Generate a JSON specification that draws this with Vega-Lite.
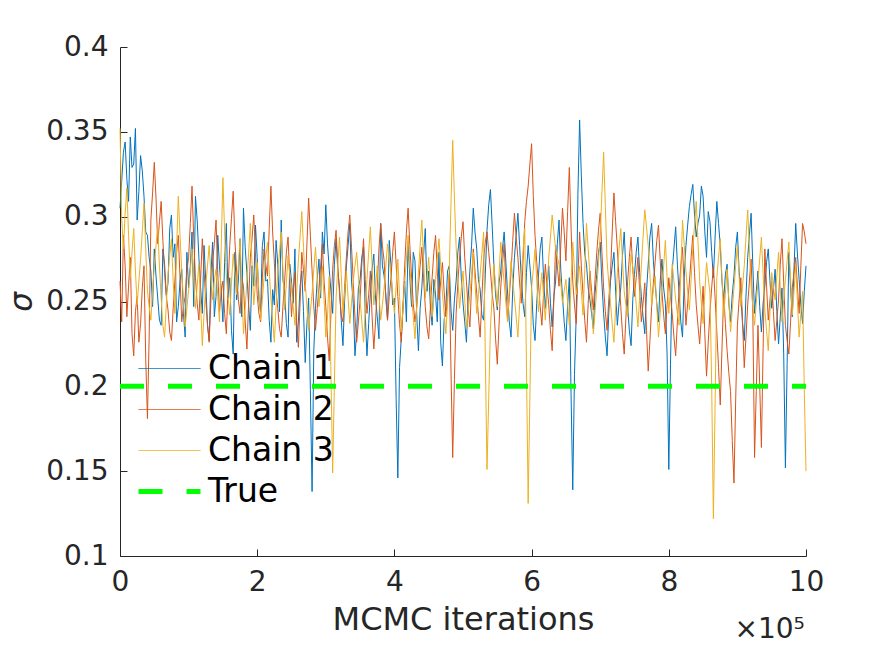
{
  "$schema": "https://vega.github.io/schema/vega-lite/v6.json",
  "width": 686,
  "height": 509,
  "autosize": {"type": "none"},
  "padding": {"left": 120, "top": 47, "right": 85, "bottom": 89},
  "background": "white",
  "title": {"text": "×10⁵", "orient": "bottom", "anchor": "end", "fontSize": 28, "font": "DejaVu Sans", "fontWeight": "normal", "color": "#262626", "dy": -23, "dx": -19},
  "layer": [
    {
      "data": {"values": [
        {"iter":0,"Chain 1":0.305,"Chain 2":0.262,"Chain 3":0.352},
        {"iter":5000,"Chain 1":0.338,"Chain 2":0.289,"Chain 3":0.281},
        {"iter":10000,"Chain 1":0.322,"Chain 2":0.241,"Chain 3":0.317},
        {"iter":15000,"Chain 1":0.347,"Chain 2":0.276,"Chain 3":0.264},
        {"iter":20000,"Chain 1":0.331,"Chain 2":0.218,"Chain 3":0.293},
        {"iter":25000,"Chain 1":0.298,"Chain 2":0.253,"Chain 3":0.248},
        {"iter":30000,"Chain 1":0.336,"Chain 2":0.237,"Chain 3":0.275},
        {"iter":35000,"Chain 1":0.312,"Chain 2":0.271,"Chain 3":0.308},
        {"iter":40000,"Chain 1":0.289,"Chain 2":0.181,"Chain 3":0.256},
        {"iter":45000,"Chain 1":0.268,"Chain 2":0.298,"Chain 3":0.239},
        {"iter":50000,"Chain 1":0.281,"Chain 2":0.332,"Chain 3":0.271},
        {"iter":55000,"Chain 1":0.252,"Chain 2":0.284,"Chain 3":0.294},
        {"iter":60000,"Chain 1":0.236,"Chain 2":0.309,"Chain 3":0.252},
        {"iter":65000,"Chain 1":0.272,"Chain 2":0.267,"Chain 3":0.229},
        {"iter":70000,"Chain 1":0.261,"Chain 2":0.245,"Chain 3":0.266},
        {"iter":75000,"Chain 1":0.301,"Chain 2":0.227,"Chain 3":0.287},
        {"iter":80000,"Chain 1":0.284,"Chain 2":0.262,"Chain 3":0.243},
        {"iter":85000,"Chain 1":0.247,"Chain 2":0.289,"Chain 3":0.312},
        {"iter":90000,"Chain 1":0.269,"Chain 2":0.238,"Chain 3":0.268},
        {"iter":95000,"Chain 1":0.229,"Chain 2":0.253,"Chain 3":0.235},
        {"iter":100000,"Chain 1":0.258,"Chain 2":0.276,"Chain 3":0.257},
        {"iter":105000,"Chain 1":0.291,"Chain 2":0.318,"Chain 3":0.281},
        {"iter":110000,"Chain 1":0.312,"Chain 2":0.264,"Chain 3":0.246},
        {"iter":115000,"Chain 1":0.276,"Chain 2":0.239,"Chain 3":0.272},
        {"iter":120000,"Chain 1":0.243,"Chain 2":0.287,"Chain 3":0.224},
        {"iter":125000,"Chain 1":0.262,"Chain 2":0.251,"Chain 3":0.259},
        {"iter":130000,"Chain 1":0.227,"Chain 2":0.226,"Chain 3":0.283},
        {"iter":135000,"Chain 1":0.285,"Chain 2":0.273,"Chain 3":0.251},
        {"iter":140000,"Chain 1":0.253,"Chain 2":0.298,"Chain 3":0.269},
        {"iter":145000,"Chain 1":0.271,"Chain 2":0.244,"Chain 3":0.238},
        {"iter":150000,"Chain 1":0.238,"Chain 2":0.262,"Chain 3":0.323},
        {"iter":155000,"Chain 1":0.296,"Chain 2":0.231,"Chain 3":0.265},
        {"iter":160000,"Chain 1":0.264,"Chain 2":0.283,"Chain 3":0.242},
        {"iter":165000,"Chain 1":0.219,"Chain 2":0.315,"Chain 3":0.278},
        {"iter":170000,"Chain 1":0.251,"Chain 2":0.268,"Chain 3":0.254},
        {"iter":175000,"Chain 1":0.287,"Chain 2":0.243,"Chain 3":0.287},
        {"iter":180000,"Chain 1":0.305,"Chain 2":0.259,"Chain 3":0.231},
        {"iter":185000,"Chain 1":0.267,"Chain 2":0.222,"Chain 3":0.262},
        {"iter":190000,"Chain 1":0.233,"Chain 2":0.276,"Chain 3":0.296},
        {"iter":195000,"Chain 1":0.259,"Chain 2":0.301,"Chain 3":0.248},
        {"iter":200000,"Chain 1":0.276,"Chain 2":0.254,"Chain 3":0.273},
        {"iter":205000,"Chain 1":0.244,"Chain 2":0.238,"Chain 3":0.239},
        {"iter":210000,"Chain 1":0.291,"Chain 2":0.281,"Chain 3":0.264},
        {"iter":215000,"Chain 1":0.263,"Chain 2":0.265,"Chain 3":0.285},
        {"iter":220000,"Chain 1":0.226,"Chain 2":0.318,"Chain 3":0.252},
        {"iter":225000,"Chain 1":0.248,"Chain 2":0.273,"Chain 3":0.226},
        {"iter":230000,"Chain 1":0.272,"Chain 2":0.246,"Chain 3":0.268},
        {"iter":235000,"Chain 1":0.298,"Chain 2":0.229,"Chain 3":0.291},
        {"iter":240000,"Chain 1":0.255,"Chain 2":0.262,"Chain 3":0.245},
        {"iter":245000,"Chain 1":0.229,"Chain 2":0.288,"Chain 3":0.277},
        {"iter":250000,"Chain 1":0.262,"Chain 2":0.241,"Chain 3":0.258},
        {"iter":255000,"Chain 1":0.281,"Chain 2":0.267,"Chain 3":0.236},
        {"iter":260000,"Chain 1":0.238,"Chain 2":0.223,"Chain 3":0.274},
        {"iter":265000,"Chain 1":0.268,"Chain 2":0.279,"Chain 3":0.303},
        {"iter":270000,"Chain 1":0.214,"Chain 2":0.256,"Chain 3":0.261},
        {"iter":275000,"Chain 1":0.252,"Chain 2":0.311,"Chain 3":0.233},
        {"iter":280000,"Chain 1":0.138,"Chain 2":0.268,"Chain 3":0.255},
        {"iter":285000,"Chain 1":0.246,"Chain 2":0.233,"Chain 3":0.282},
        {"iter":290000,"Chain 1":0.275,"Chain 2":0.258,"Chain 3":0.247},
        {"iter":295000,"Chain 1":0.291,"Chain 2":0.284,"Chain 3":0.271},
        {"iter":300000,"Chain 1":0.307,"Chain 2":0.247,"Chain 3":0.229},
        {"iter":305000,"Chain 1":0.269,"Chain 2":0.215,"Chain 3":0.265},
        {"iter":310000,"Chain 1":0.243,"Chain 2":0.269,"Chain 3":0.149},
        {"iter":315000,"Chain 1":0.287,"Chain 2":0.292,"Chain 3":0.252},
        {"iter":320000,"Chain 1":0.258,"Chain 2":0.255,"Chain 3":0.288},
        {"iter":325000,"Chain 1":0.224,"Chain 2":0.238,"Chain 3":0.243},
        {"iter":330000,"Chain 1":0.271,"Chain 2":0.276,"Chain 3":0.268},
        {"iter":335000,"Chain 1":0.296,"Chain 2":0.301,"Chain 3":0.237},
        {"iter":340000,"Chain 1":0.249,"Chain 2":0.262,"Chain 3":0.262},
        {"iter":345000,"Chain 1":0.232,"Chain 2":0.226,"Chain 3":0.279},
        {"iter":350000,"Chain 1":0.263,"Chain 2":0.251,"Chain 3":0.251},
        {"iter":355000,"Chain 1":0.282,"Chain 2":0.287,"Chain 3":0.226},
        {"iter":360000,"Chain 1":0.218,"Chain 2":0.243,"Chain 3":0.263},
        {"iter":365000,"Chain 1":0.255,"Chain 2":0.268,"Chain 3":0.294},
        {"iter":370000,"Chain 1":0.278,"Chain 2":0.222,"Chain 3":0.248},
        {"iter":375000,"Chain 1":0.241,"Chain 2":0.259,"Chain 3":0.271},
        {"iter":380000,"Chain 1":0.296,"Chain 2":0.296,"Chain 3":0.239},
        {"iter":385000,"Chain 1":0.265,"Chain 2":0.274,"Chain 3":0.258},
        {"iter":390000,"Chain 1":0.239,"Chain 2":0.239,"Chain 3":0.284},
        {"iter":395000,"Chain 1":0.271,"Chain 2":0.264,"Chain 3":0.266},
        {"iter":400000,"Chain 1":0.252,"Chain 2":0.291,"Chain 3":0.243},
        {"iter":405000,"Chain 1":0.146,"Chain 2":0.253,"Chain 3":0.275},
        {"iter":410000,"Chain 1":0.228,"Chain 2":0.226,"Chain 3":0.232},
        {"iter":415000,"Chain 1":0.262,"Chain 2":0.271,"Chain 3":0.261},
        {"iter":420000,"Chain 1":0.285,"Chain 2":0.305,"Chain 3":0.289},
        {"iter":425000,"Chain 1":0.247,"Chain 2":0.265,"Chain 3":0.254},
        {"iter":430000,"Chain 1":0.274,"Chain 2":0.238,"Chain 3":0.228},
        {"iter":435000,"Chain 1":0.221,"Chain 2":0.259,"Chain 3":0.267},
        {"iter":440000,"Chain 1":0.258,"Chain 2":0.282,"Chain 3":0.298},
        {"iter":445000,"Chain 1":0.293,"Chain 2":0.247,"Chain 3":0.252},
        {"iter":450000,"Chain 1":0.268,"Chain 2":0.228,"Chain 3":0.276},
        {"iter":455000,"Chain 1":0.236,"Chain 2":0.264,"Chain 3":0.241},
        {"iter":460000,"Chain 1":0.254,"Chain 2":0.289,"Chain 3":0.263},
        {"iter":465000,"Chain 1":0.279,"Chain 2":0.251,"Chain 3":0.287},
        {"iter":470000,"Chain 1":0.212,"Chain 2":0.273,"Chain 3":0.255},
        {"iter":475000,"Chain 1":0.247,"Chain 2":0.241,"Chain 3":0.231},
        {"iter":480000,"Chain 1":0.271,"Chain 2":0.266,"Chain 3":0.269},
        {"iter":485000,"Chain 1":0.233,"Chain 2":0.158,"Chain 3":0.345},
        {"iter":490000,"Chain 1":0.262,"Chain 2":0.243,"Chain 3":0.282},
        {"iter":495000,"Chain 1":0.288,"Chain 2":0.276,"Chain 3":0.246},
        {"iter":500000,"Chain 1":0.249,"Chain 2":0.297,"Chain 3":0.268},
        {"iter":505000,"Chain 1":0.226,"Chain 2":0.262,"Chain 3":0.234},
        {"iter":510000,"Chain 1":0.268,"Chain 2":0.235,"Chain 3":0.254},
        {"iter":515000,"Chain 1":0.305,"Chain 2":0.281,"Chain 3":0.279},
        {"iter":520000,"Chain 1":0.281,"Chain 2":0.255,"Chain 3":0.243},
        {"iter":525000,"Chain 1":0.257,"Chain 2":0.229,"Chain 3":0.266},
        {"iter":530000,"Chain 1":0.239,"Chain 2":0.274,"Chain 3":0.291},
        {"iter":535000,"Chain 1":0.292,"Chain 2":0.291,"Chain 3":0.151},
        {"iter":540000,"Chain 1":0.316,"Chain 2":0.268,"Chain 3":0.235},
        {"iter":545000,"Chain 1":0.272,"Chain 2":0.246,"Chain 3":0.272},
        {"iter":550000,"Chain 1":0.245,"Chain 2":0.213,"Chain 3":0.247},
        {"iter":555000,"Chain 1":0.268,"Chain 2":0.258,"Chain 3":0.285},
        {"iter":560000,"Chain 1":0.291,"Chain 2":0.284,"Chain 3":0.261},
        {"iter":565000,"Chain 1":0.255,"Chain 2":0.239,"Chain 3":0.238},
        {"iter":570000,"Chain 1":0.229,"Chain 2":0.267,"Chain 3":0.274},
        {"iter":575000,"Chain 1":0.276,"Chain 2":0.302,"Chain 3":0.252},
        {"iter":580000,"Chain 1":0.302,"Chain 2":0.276,"Chain 3":0.229},
        {"iter":585000,"Chain 1":0.264,"Chain 2":0.249,"Chain 3":0.266},
        {"iter":590000,"Chain 1":0.241,"Chain 2":0.297,"Chain 3":0.293},
        {"iter":595000,"Chain 1":0.283,"Chain 2":0.318,"Chain 3":0.131},
        {"iter":600000,"Chain 1":0.258,"Chain 2":0.343,"Chain 3":0.258},
        {"iter":605000,"Chain 1":0.227,"Chain 2":0.289,"Chain 3":0.281},
        {"iter":610000,"Chain 1":0.265,"Chain 2":0.261,"Chain 3":0.244},
        {"iter":615000,"Chain 1":0.288,"Chain 2":0.236,"Chain 3":0.267},
        {"iter":620000,"Chain 1":0.246,"Chain 2":0.272,"Chain 3":0.239},
        {"iter":625000,"Chain 1":0.271,"Chain 2":0.248,"Chain 3":0.276},
        {"iter":630000,"Chain 1":0.235,"Chain 2":0.221,"Chain 3":0.301},
        {"iter":635000,"Chain 1":0.262,"Chain 2":0.283,"Chain 3":0.281},
        {"iter":640000,"Chain 1":0.298,"Chain 2":0.259,"Chain 3":0.272},
        {"iter":645000,"Chain 1":0.253,"Chain 2":0.305,"Chain 3":0.249},
        {"iter":650000,"Chain 1":0.227,"Chain 2":0.274,"Chain 3":0.263},
        {"iter":655000,"Chain 1":0.264,"Chain 2":0.329,"Chain 3":0.236},
        {"iter":660000,"Chain 1":0.139,"Chain 2":0.262,"Chain 3":0.285},
        {"iter":665000,"Chain 1":0.241,"Chain 2":0.237,"Chain 3":0.254},
        {"iter":670000,"Chain 1":0.357,"Chain 2":0.291,"Chain 3":0.271},
        {"iter":675000,"Chain 1":0.296,"Chain 2":0.254,"Chain 3":0.242},
        {"iter":680000,"Chain 1":0.272,"Chain 2":0.226,"Chain 3":0.296},
        {"iter":685000,"Chain 1":0.251,"Chain 2":0.268,"Chain 3":0.265},
        {"iter":690000,"Chain 1":0.234,"Chain 2":0.245,"Chain 3":0.231},
        {"iter":695000,"Chain 1":0.266,"Chain 2":0.279,"Chain 3":0.258},
        {"iter":700000,"Chain 1":0.285,"Chain 2":0.302,"Chain 3":0.289},
        {"iter":705000,"Chain 1":0.243,"Chain 2":0.258,"Chain 3":0.338},
        {"iter":710000,"Chain 1":0.218,"Chain 2":0.233,"Chain 3":0.274},
        {"iter":715000,"Chain 1":0.262,"Chain 2":0.266,"Chain 3":0.249},
        {"iter":720000,"Chain 1":0.279,"Chain 2":0.314,"Chain 3":0.226},
        {"iter":725000,"Chain 1":0.236,"Chain 2":0.281,"Chain 3":0.267},
        {"iter":730000,"Chain 1":0.258,"Chain 2":0.247,"Chain 3":0.293},
        {"iter":735000,"Chain 1":0.291,"Chain 2":0.219,"Chain 3":0.256},
        {"iter":740000,"Chain 1":0.247,"Chain 2":0.262,"Chain 3":0.241},
        {"iter":745000,"Chain 1":0.224,"Chain 2":0.288,"Chain 3":0.278},
        {"iter":750000,"Chain 1":0.266,"Chain 2":0.253,"Chain 3":0.262},
        {"iter":755000,"Chain 1":0.288,"Chain 2":0.276,"Chain 3":0.235},
        {"iter":760000,"Chain 1":0.253,"Chain 2":0.238,"Chain 3":0.271},
        {"iter":765000,"Chain 1":0.231,"Chain 2":0.261,"Chain 3":0.304},
        {"iter":770000,"Chain 1":0.272,"Chain 2":0.209,"Chain 3":0.283},
        {"iter":775000,"Chain 1":0.296,"Chain 2":0.247,"Chain 3":0.248},
        {"iter":780000,"Chain 1":0.261,"Chain 2":0.273,"Chain 3":0.265},
        {"iter":785000,"Chain 1":0.238,"Chain 2":0.295,"Chain 3":0.229},
        {"iter":790000,"Chain 1":0.275,"Chain 2":0.256,"Chain 3":0.257},
        {"iter":795000,"Chain 1":0.249,"Chain 2":0.231,"Chain 3":0.286},
        {"iter":800000,"Chain 1":0.151,"Chain 2":0.264,"Chain 3":0.243},
        {"iter":805000,"Chain 1":0.268,"Chain 2":0.243,"Chain 3":0.272},
        {"iter":810000,"Chain 1":0.294,"Chain 2":0.218,"Chain 3":0.251},
        {"iter":815000,"Chain 1":0.255,"Chain 2":0.257,"Chain 3":0.236},
        {"iter":820000,"Chain 1":0.229,"Chain 2":0.282,"Chain 3":0.298},
        {"iter":825000,"Chain 1":0.283,"Chain 2":0.236,"Chain 3":0.268},
        {"iter":830000,"Chain 1":0.306,"Chain 2":0.261,"Chain 3":0.245},
        {"iter":835000,"Chain 1":0.319,"Chain 2":0.289,"Chain 3":0.281},
        {"iter":840000,"Chain 1":0.288,"Chain 2":0.248,"Chain 3":0.309},
        {"iter":845000,"Chain 1":0.301,"Chain 2":0.225,"Chain 3":0.262},
        {"iter":850000,"Chain 1":0.312,"Chain 2":0.259,"Chain 3":0.237},
        {"iter":855000,"Chain 1":0.276,"Chain 2":0.206,"Chain 3":0.273},
        {"iter":860000,"Chain 1":0.297,"Chain 2":0.244,"Chain 3":0.255},
        {"iter":865000,"Chain 1":0.264,"Chain 2":0.271,"Chain 3":0.122},
        {"iter":870000,"Chain 1":0.309,"Chain 2":0.232,"Chain 3":0.264},
        {"iter":875000,"Chain 1":0.283,"Chain 2":0.189,"Chain 3":0.287},
        {"iter":880000,"Chain 1":0.251,"Chain 2":0.254,"Chain 3":0.241},
        {"iter":885000,"Chain 1":0.272,"Chain 2":0.221,"Chain 3":0.269},
        {"iter":890000,"Chain 1":0.238,"Chain 2":0.197,"Chain 3":0.232},
        {"iter":895000,"Chain 1":0.265,"Chain 2":0.143,"Chain 3":0.258},
        {"iter":900000,"Chain 1":0.291,"Chain 2":0.236,"Chain 3":0.283},
        {"iter":905000,"Chain 1":0.254,"Chain 2":0.264,"Chain 3":0.247},
        {"iter":910000,"Chain 1":0.227,"Chain 2":0.211,"Chain 3":0.271},
        {"iter":915000,"Chain 1":0.276,"Chain 2":0.248,"Chain 3":0.304},
        {"iter":920000,"Chain 1":0.302,"Chain 2":0.275,"Chain 3":0.259},
        {"iter":925000,"Chain 1":0.243,"Chain 2":0.158,"Chain 3":0.236},
        {"iter":930000,"Chain 1":0.268,"Chain 2":0.236,"Chain 3":0.262},
        {"iter":935000,"Chain 1":0.232,"Chain 2":0.164,"Chain 3":0.288},
        {"iter":940000,"Chain 1":0.259,"Chain 2":0.281,"Chain 3":0.245},
        {"iter":945000,"Chain 1":0.281,"Chain 2":0.239,"Chain 3":0.221},
        {"iter":950000,"Chain 1":0.246,"Chain 2":0.262,"Chain 3":0.267},
        {"iter":955000,"Chain 1":0.269,"Chain 2":0.227,"Chain 3":0.251},
        {"iter":960000,"Chain 1":0.225,"Chain 2":0.251,"Chain 3":0.279},
        {"iter":965000,"Chain 1":0.258,"Chain 2":0.287,"Chain 3":0.238},
        {"iter":970000,"Chain 1":0.152,"Chain 2":0.236,"Chain 3":0.263},
        {"iter":975000,"Chain 1":0.279,"Chain 2":0.219,"Chain 3":0.285},
        {"iter":980000,"Chain 1":0.241,"Chain 2":0.258,"Chain 3":0.242},
        {"iter":985000,"Chain 1":0.296,"Chain 2":0.276,"Chain 3":0.271},
        {"iter":990000,"Chain 1":0.263,"Chain 2":0.243,"Chain 3":0.229},
        {"iter":995000,"Chain 1":0.237,"Chain 2":0.296,"Chain 3":0.256},
        {"iter":1000000,"Chain 1":0.271,"Chain 2":0.284,"Chain 3":0.150},
        {"iter":2500,"Chain 1":0.321,"Chain 2":0.238,"Chain 3":0.299},
        {"iter":7500,"Chain 1":0.344,"Chain 2":0.271,"Chain 3":0.302},
        {"iter":12500,"Chain 1":0.309,"Chain 2":0.259,"Chain 3":0.289},
        {"iter":17500,"Chain 1":0.329,"Chain 2":0.231,"Chain 3":0.279},
        {"iter":22500,"Chain 1":0.352,"Chain 2":0.244,"Chain 3":0.268},
        {"iter":27500,"Chain 1":0.315,"Chain 2":0.226,"Chain 3":0.262},
        {"iter":32500,"Chain 1":0.327,"Chain 2":0.258,"Chain 3":0.291},
        {"iter":37500,"Chain 1":0.291,"Chain 2":0.216,"Chain 3":0.281},
        {"iter":42500,"Chain 1":0.276,"Chain 2":0.229,"Chain 3":0.247},
        {"iter":47500,"Chain 1":0.247,"Chain 2":0.314,"Chain 3":0.256},
        {"iter":52500,"Chain 1":0.265,"Chain 2":0.311,"Chain 3":0.283},
        {"iter":57500,"Chain 1":0.239,"Chain 2":0.297,"Chain 3":0.271},
        {"iter":62500,"Chain 1":0.281,"Chain 2":0.286,"Chain 3":0.236},
        {"iter":67500,"Chain 1":0.254,"Chain 2":0.253,"Chain 3":0.248},
        {"iter":72500,"Chain 1":0.293,"Chain 2":0.232,"Chain 3":0.277},
        {"iter":77500,"Chain 1":0.276,"Chain 2":0.246,"Chain 3":0.262},
        {"iter":82500,"Chain 1":0.238,"Chain 2":0.279,"Chain 3":0.281},
        {"iter":87500,"Chain 1":0.262,"Chain 2":0.264,"Chain 3":0.289},
        {"iter":92500,"Chain 1":0.243,"Chain 2":0.247,"Chain 3":0.251},
        {"iter":97500,"Chain 1":0.279,"Chain 2":0.268,"Chain 3":0.246},
        {"iter":102500,"Chain 1":0.271,"Chain 2":0.296,"Chain 3":0.268},
        {"iter":107500,"Chain 1":0.247,"Chain 2":0.287,"Chain 3":0.263},
        {"iter":112500,"Chain 1":0.298,"Chain 2":0.249,"Chain 3":0.259},
        {"iter":117500,"Chain 1":0.258,"Chain 2":0.263,"Chain 3":0.248},
        {"iter":122500,"Chain 1":0.283,"Chain 2":0.268,"Chain 3":0.243},
        {"iter":127500,"Chain 1":0.236,"Chain 2":0.237,"Chain 3":0.271},
        {"iter":132500,"Chain 1":0.266,"Chain 2":0.251,"Chain 3":0.266},
        {"iter":137500,"Chain 1":0.241,"Chain 2":0.284,"Chain 3":0.262},
        {"iter":142500,"Chain 1":0.289,"Chain 2":0.267,"Chain 3":0.253},
        {"iter":147500,"Chain 1":0.257,"Chain 2":0.256,"Chain 3":0.281},
        {"iter":152500,"Chain 1":0.273,"Chain 2":0.243,"Chain 3":0.291},
        {"iter":157500,"Chain 1":0.252,"Chain 2":0.258,"Chain 3":0.253},
        {"iter":162500,"Chain 1":0.233,"Chain 2":0.299,"Chain 3":0.261},
        {"iter":167500,"Chain 1":0.279,"Chain 2":0.286,"Chain 3":0.266},
        {"iter":172500,"Chain 1":0.262,"Chain 2":0.251,"Chain 3":0.271},
        {"iter":177500,"Chain 1":0.241,"Chain 2":0.264,"Chain 3":0.258},
        {"iter":182500,"Chain 1":0.282,"Chain 2":0.238,"Chain 3":0.246},
        {"iter":187500,"Chain 1":0.248,"Chain 2":0.249,"Chain 3":0.279},
        {"iter":192500,"Chain 1":0.271,"Chain 2":0.287,"Chain 3":0.272},
        {"iter":197500,"Chain 1":0.295,"Chain 2":0.278,"Chain 3":0.261},
        {"iter":202500,"Chain 1":0.251,"Chain 2":0.243,"Chain 3":0.256},
        {"iter":207500,"Chain 1":0.283,"Chain 2":0.264,"Chain 3":0.251},
        {"iter":212500,"Chain 1":0.262,"Chain 2":0.272,"Chain 3":0.276},
        {"iter":217500,"Chain 1":0.239,"Chain 2":0.293,"Chain 3":0.268},
        {"iter":222500,"Chain 1":0.257,"Chain 2":0.291,"Chain 3":0.239},
        {"iter":227500,"Chain 1":0.286,"Chain 2":0.256,"Chain 3":0.247},
        {"iter":232500,"Chain 1":0.244,"Chain 2":0.234,"Chain 3":0.279},
        {"iter":237500,"Chain 1":0.263,"Chain 2":0.247,"Chain 3":0.268},
        {"iter":242500,"Chain 1":0.237,"Chain 2":0.279,"Chain 3":0.261},
        {"iter":247500,"Chain 1":0.272,"Chain 2":0.263,"Chain 3":0.266},
        {"iter":252500,"Chain 1":0.249,"Chain 2":0.256,"Chain 3":0.247},
        {"iter":257500,"Chain 1":0.226,"Chain 2":0.238,"Chain 3":0.255},
        {"iter":262500,"Chain 1":0.259,"Chain 2":0.249,"Chain 3":0.288},
        {"iter":267500,"Chain 1":0.244,"Chain 2":0.268,"Chain 3":0.282},
        {"iter":272500,"Chain 1":0.237,"Chain 2":0.284,"Chain 3":0.247},
        {"iter":277500,"Chain 1":0.198,"Chain 2":0.289,"Chain 3":0.244},
        {"iter":282500,"Chain 1":0.221,"Chain 2":0.247,"Chain 3":0.269},
        {"iter":287500,"Chain 1":0.263,"Chain 2":0.246,"Chain 3":0.264},
        {"iter":292500,"Chain 1":0.252,"Chain 2":0.271,"Chain 3":0.259},
        {"iter":297500,"Chain 1":0.278,"Chain 2":0.262,"Chain 3":0.251},
        {"iter":302500,"Chain 1":0.284,"Chain 2":0.229,"Chain 3":0.241},
        {"iter":307500,"Chain 1":0.256,"Chain 2":0.243,"Chain 3":0.207},
        {"iter":312500,"Chain 1":0.272,"Chain 2":0.283,"Chain 3":0.201},
        {"iter":317500,"Chain 1":0.268,"Chain 2":0.271,"Chain 3":0.271},
        {"iter":322500,"Chain 1":0.239,"Chain 2":0.242,"Chain 3":0.266},
        {"iter":327500,"Chain 1":0.251,"Chain 2":0.259,"Chain 3":0.255},
        {"iter":332500,"Chain 1":0.283,"Chain 2":0.291,"Chain 3":0.252},
        {"iter":337500,"Chain 1":0.262,"Chain 2":0.282,"Chain 3":0.249},
        {"iter":342500,"Chain 1":0.218,"Chain 2":0.241,"Chain 3":0.271},
        {"iter":347500,"Chain 1":0.258,"Chain 2":0.238,"Chain 3":0.265},
        {"iter":352500,"Chain 1":0.276,"Chain 2":0.272,"Chain 3":0.238},
        {"iter":357500,"Chain 1":0.243,"Chain 2":0.263,"Chain 3":0.244},
        {"iter":362500,"Chain 1":0.237,"Chain 2":0.254,"Chain 3":0.279},
        {"iter":367500,"Chain 1":0.269,"Chain 2":0.241,"Chain 3":0.271},
        {"iter":372500,"Chain 1":0.252,"Chain 2":0.238,"Chain 3":0.259},
        {"iter":377500,"Chain 1":0.228,"Chain 2":0.281,"Chain 3":0.255},
        {"iter":382500,"Chain 1":0.271,"Chain 2":0.283,"Chain 3":0.248},
        {"iter":387500,"Chain 1":0.254,"Chain 2":0.252,"Chain 3":0.271},
        {"iter":392500,"Chain 1":0.286,"Chain 2":0.253,"Chain 3":0.275},
        {"iter":397500,"Chain 1":0.248,"Chain 2":0.279,"Chain 3":0.254},
        {"iter":402500,"Chain 1":0.193,"Chain 2":0.272,"Chain 3":0.259},
        {"iter":407500,"Chain 1":0.211,"Chain 2":0.237,"Chain 3":0.253},
        {"iter":412500,"Chain 1":0.247,"Chain 2":0.246,"Chain 3":0.246},
        {"iter":417500,"Chain 1":0.238,"Chain 2":0.291,"Chain 3":0.275},
        {"iter":422500,"Chain 1":0.264,"Chain 2":0.283,"Chain 3":0.271},
        {"iter":427500,"Chain 1":0.279,"Chain 2":0.249,"Chain 3":0.241},
        {"iter":432500,"Chain 1":0.243,"Chain 2":0.246,"Chain 3":0.247},
        {"iter":437500,"Chain 1":0.246,"Chain 2":0.271,"Chain 3":0.283},
        {"iter":442500,"Chain 1":0.277,"Chain 2":0.264,"Chain 3":0.275},
        {"iter":447500,"Chain 1":0.256,"Chain 2":0.235,"Chain 3":0.264},
        {"iter":452500,"Chain 1":0.247,"Chain 2":0.247,"Chain 3":0.258},
        {"iter":457500,"Chain 1":0.263,"Chain 2":0.279,"Chain 3":0.252},
        {"iter":462500,"Chain 1":0.238,"Chain 2":0.268,"Chain 3":0.275},
        {"iter":467500,"Chain 1":0.226,"Chain 2":0.262,"Chain 3":0.271},
        {"iter":472500,"Chain 1":0.239,"Chain 2":0.256,"Chain 3":0.243},
        {"iter":477500,"Chain 1":0.268,"Chain 2":0.253,"Chain 3":0.249},
        {"iter":482500,"Chain 1":0.245,"Chain 2":0.209,"Chain 3":0.308},
        {"iter":487500,"Chain 1":0.251,"Chain 2":0.204,"Chain 3":0.311},
        {"iter":492500,"Chain 1":0.279,"Chain 2":0.261,"Chain 3":0.264},
        {"iter":497500,"Chain 1":0.264,"Chain 2":0.288,"Chain 3":0.257},
        {"iter":502500,"Chain 1":0.238,"Chain 2":0.276,"Chain 3":0.251},
        {"iter":507500,"Chain 1":0.252,"Chain 2":0.246,"Chain 3":0.244},
        {"iter":512500,"Chain 1":0.283,"Chain 2":0.259,"Chain 3":0.266},
        {"iter":517500,"Chain 1":0.291,"Chain 2":0.268,"Chain 3":0.261},
        {"iter":522500,"Chain 1":0.263,"Chain 2":0.241,"Chain 3":0.254},
        {"iter":527500,"Chain 1":0.242,"Chain 2":0.252,"Chain 3":0.278},
        {"iter":532500,"Chain 1":0.266,"Chain 2":0.285,"Chain 3":0.219},
        {"iter":537500,"Chain 1":0.307,"Chain 2":0.279,"Chain 3":0.193},
        {"iter":542500,"Chain 1":0.295,"Chain 2":0.255,"Chain 3":0.253},
        {"iter":547500,"Chain 1":0.254,"Chain 2":0.228,"Chain 3":0.259},
        {"iter":552500,"Chain 1":0.261,"Chain 2":0.236,"Chain 3":0.266},
        {"iter":557500,"Chain 1":0.281,"Chain 2":0.272,"Chain 3":0.273},
        {"iter":562500,"Chain 1":0.273,"Chain 2":0.259,"Chain 3":0.249},
        {"iter":567500,"Chain 1":0.238,"Chain 2":0.253,"Chain 3":0.256},
        {"iter":572500,"Chain 1":0.257,"Chain 2":0.286,"Chain 3":0.263},
        {"iter":577500,"Chain 1":0.289,"Chain 2":0.288,"Chain 3":0.241},
        {"iter":582500,"Chain 1":0.283,"Chain 2":0.261,"Chain 3":0.248},
        {"iter":587500,"Chain 1":0.249,"Chain 2":0.274,"Chain 3":0.279},
        {"iter":592500,"Chain 1":0.267,"Chain 2":0.309,"Chain 3":0.212},
        {"iter":597500,"Chain 1":0.271,"Chain 2":0.331,"Chain 3":0.194},
        {"iter":602500,"Chain 1":0.236,"Chain 2":0.312,"Chain 3":0.269},
        {"iter":607500,"Chain 1":0.249,"Chain 2":0.273,"Chain 3":0.262},
        {"iter":612500,"Chain 1":0.281,"Chain 2":0.247,"Chain 3":0.256},
        {"iter":617500,"Chain 1":0.263,"Chain 2":0.255,"Chain 3":0.253},
        {"iter":622500,"Chain 1":0.258,"Chain 2":0.259,"Chain 3":0.257},
        {"iter":627500,"Chain 1":0.249,"Chain 2":0.233,"Chain 3":0.288},
        {"iter":632500,"Chain 1":0.253,"Chain 2":0.252,"Chain 3":0.291},
        {"iter":637500,"Chain 1":0.284,"Chain 2":0.271,"Chain 3":0.276},
        {"iter":642500,"Chain 1":0.269,"Chain 2":0.283,"Chain 3":0.261},
        {"iter":647500,"Chain 1":0.238,"Chain 2":0.291,"Chain 3":0.256},
        {"iter":652500,"Chain 1":0.248,"Chain 2":0.303,"Chain 3":0.249},
        {"iter":657500,"Chain 1":0.196,"Chain 2":0.294,"Chain 3":0.261},
        {"iter":662500,"Chain 1":0.207,"Chain 2":0.248,"Chain 3":0.269},
        {"iter":667500,"Chain 1":0.313,"Chain 2":0.265,"Chain 3":0.262},
        {"iter":672500,"Chain 1":0.324,"Chain 2":0.271,"Chain 3":0.256},
        {"iter":677500,"Chain 1":0.278,"Chain 2":0.239,"Chain 3":0.269},
        {"iter":682500,"Chain 1":0.258,"Chain 2":0.249,"Chain 3":0.281},
        {"iter":687500,"Chain 1":0.243,"Chain 2":0.256,"Chain 3":0.248},
        {"iter":692500,"Chain 1":0.255,"Chain 2":0.263,"Chain 3":0.244},
        {"iter":697500,"Chain 1":0.279,"Chain 2":0.292,"Chain 3":0.273},
        {"iter":702500,"Chain 1":0.261,"Chain 2":0.279,"Chain 3":0.314},
        {"iter":707500,"Chain 1":0.229,"Chain 2":0.244,"Chain 3":0.306},
        {"iter":712500,"Chain 1":0.243,"Chain 2":0.251,"Chain 3":0.261},
        {"iter":717500,"Chain 1":0.271,"Chain 2":0.291,"Chain 3":0.237},
        {"iter":722500,"Chain 1":0.256,"Chain 2":0.297,"Chain 3":0.246},
        {"iter":727500,"Chain 1":0.249,"Chain 2":0.263,"Chain 3":0.281},
        {"iter":732500,"Chain 1":0.277,"Chain 2":0.231,"Chain 3":0.274},
        {"iter":737500,"Chain 1":0.268,"Chain 2":0.241,"Chain 3":0.248},
        {"iter":742500,"Chain 1":0.233,"Chain 2":0.276,"Chain 3":0.259},
        {"iter":747500,"Chain 1":0.251,"Chain 2":0.269,"Chain 3":0.270},
        {"iter":752500,"Chain 1":0.279,"Chain 2":0.264,"Chain 3":0.248},
        {"iter":757500,"Chain 1":0.267,"Chain 2":0.256,"Chain 3":0.253},
        {"iter":762500,"Chain 1":0.241,"Chain 2":0.249,"Chain 3":0.288},
        {"iter":767500,"Chain 1":0.256,"Chain 2":0.233,"Chain 3":0.294},
        {"iter":772500,"Chain 1":0.288,"Chain 2":0.227,"Chain 3":0.266},
        {"iter":777500,"Chain 1":0.274,"Chain 2":0.261,"Chain 3":0.257},
        {"iter":782500,"Chain 1":0.249,"Chain 2":0.286,"Chain 3":0.247},
        {"iter":787500,"Chain 1":0.262,"Chain 2":0.274,"Chain 3":0.243},
        {"iter":792500,"Chain 1":0.258,"Chain 2":0.242,"Chain 3":0.271},
        {"iter":797500,"Chain 1":0.219,"Chain 2":0.248,"Chain 3":0.264},
        {"iter":802500,"Chain 1":0.213,"Chain 2":0.253,"Chain 3":0.257},
        {"iter":807500,"Chain 1":0.281,"Chain 2":0.229,"Chain 3":0.262},
        {"iter":812500,"Chain 1":0.272,"Chain 2":0.238,"Chain 3":0.243},
        {"iter":817500,"Chain 1":0.238,"Chain 2":0.271,"Chain 3":0.267},
        {"iter":822500,"Chain 1":0.264,"Chain 2":0.258,"Chain 3":0.283},
        {"iter":827500,"Chain 1":0.295,"Chain 2":0.249,"Chain 3":0.256},
        {"iter":832500,"Chain 1":0.313,"Chain 2":0.276,"Chain 3":0.263},
        {"iter":837500,"Chain 1":0.301,"Chain 2":0.267,"Chain 3":0.295},
        {"iter":842500,"Chain 1":0.296,"Chain 2":0.236,"Chain 3":0.286},
        {"iter":847500,"Chain 1":0.318,"Chain 2":0.242,"Chain 3":0.249},
        {"iter":852500,"Chain 1":0.291,"Chain 2":0.231,"Chain 3":0.255},
        {"iter":857500,"Chain 1":0.303,"Chain 2":0.226,"Chain 3":0.264},
        {"iter":862500,"Chain 1":0.279,"Chain 2":0.258,"Chain 3":0.201},
        {"iter":867500,"Chain 1":0.288,"Chain 2":0.252,"Chain 3":0.189},
        {"iter":872500,"Chain 1":0.296,"Chain 2":0.211,"Chain 3":0.276},
        {"iter":877500,"Chain 1":0.262,"Chain 2":0.222,"Chain 3":0.264},
        {"iter":882500,"Chain 1":0.266,"Chain 2":0.237,"Chain 3":0.255},
        {"iter":887500,"Chain 1":0.249,"Chain 2":0.208,"Chain 3":0.251},
        {"iter":892500,"Chain 1":0.254,"Chain 2":0.168,"Chain 3":0.245},
        {"iter":897500,"Chain 1":0.282,"Chain 2":0.192,"Chain 3":0.271},
        {"iter":902500,"Chain 1":0.268,"Chain 2":0.251,"Chain 3":0.265},
        {"iter":907500,"Chain 1":0.237,"Chain 2":0.238,"Chain 3":0.259},
        {"iter":912500,"Chain 1":0.253,"Chain 2":0.229,"Chain 3":0.288},
        {"iter":917500,"Chain 1":0.289,"Chain 2":0.262,"Chain 3":0.281},
        {"iter":922500,"Chain 1":0.271,"Chain 2":0.243,"Chain 3":0.247},
        {"iter":927500,"Chain 1":0.256,"Chain 2":0.197,"Chain 3":0.249},
        {"iter":932500,"Chain 1":0.247,"Chain 2":0.201,"Chain 3":0.275},
        {"iter":937500,"Chain 1":0.249,"Chain 2":0.223,"Chain 3":0.266},
        {"iter":942500,"Chain 1":0.273,"Chain 2":0.259,"Chain 3":0.233},
        {"iter":947500,"Chain 1":0.262,"Chain 2":0.251,"Chain 3":0.244},
        {"iter":952500,"Chain 1":0.257,"Chain 2":0.244,"Chain 3":0.259},
        {"iter":957500,"Chain 1":0.244,"Chain 2":0.239,"Chain 3":0.265},
        {"iter":962500,"Chain 1":0.241,"Chain 2":0.272,"Chain 3":0.258},
        {"iter":967500,"Chain 1":0.219,"Chain 2":0.261,"Chain 3":0.251},
        {"iter":972500,"Chain 1":0.213,"Chain 2":0.227,"Chain 3":0.274},
        {"iter":977500,"Chain 1":0.258,"Chain 2":0.238,"Chain 3":0.263},
        {"iter":982500,"Chain 1":0.269,"Chain 2":0.267,"Chain 3":0.256},
        {"iter":987500,"Chain 1":0.278,"Chain 2":0.259,"Chain 3":0.250},
        {"iter":992500,"Chain 1":0.248,"Chain 2":0.271,"Chain 3":0.243},
        {"iter":997500,"Chain 1":0.256,"Chain 2":0.291,"Chain 3":0.198}
      ]},
      "transform": [{"fold": ["Chain 1", "Chain 2", "Chain 3"], "as": ["series", "value"]}],
      "mark": {"type": "line", "strokeWidth": 1},
      "encoding": {
        "x": {"field": "iter", "type": "quantitative", "scale": {"domain": [0, 1000000], "nice": false, "zero": false},
              "axis": {"values": [0, 200000, 400000, 600000, 800000, 1000000], "labelExpr": "format(datum.value / 100000, 'd')", "title": "MCMC iterations", "labelPadding": 19, "titlePadding": 8, "labelFlush": false, "titleFontSize": 32}},
        "y": {"field": "value", "type": "quantitative", "scale": {"domain": [0.1, 0.4], "nice": false, "zero": false},
              "axis": {"values": [0.1, 0.15, 0.2, 0.25, 0.3, 0.35, 0.4], "format": ".2~f", "title": "σ", "titleFontStyle": "italic", "labelPadding": 19, "titlePadding": 7, "labelFlush": false}},
        "color": {"field": "series", "type": "nominal",
                  "scale": {"domain": ["Chain 1", "Chain 2", "Chain 3", "True"], "range": ["#0072BD", "#D95319", "#EDB120", "#00FF00"]},
                  "legend": {"encode": {"symbols": {"update": {
                      "strokeWidth": {"signal": "datum.value === 'True' ? 5 : 1"},
                      "strokeDash": {"signal": "datum.value === 'True' ? [24, 24] : [1, 0]"}}}}}}
      }
    },
    {
      "data": {"values": [
        {"series": "True", "iter": 0, "value": 0.2},
        {"series": "True", "iter": 1000000, "value": 0.2}
      ]},
      "mark": {"type": "line", "strokeWidth": 5, "strokeDash": [24, 24]},
      "encoding": {
        "x": {"field": "iter", "type": "quantitative"},
        "y": {"field": "value", "type": "quantitative"},
        "color": {"field": "series", "type": "nominal"}
      }
    }
  ],
  "config": {
    "view": {"stroke": null},
    "axis": {"grid": false, "domainColor": "#262626", "tickColor": "#262626", "labelColor": "#262626", "titleColor": "#262626",
             "labelFont": "DejaVu Sans", "titleFont": "DejaVu Sans", "labelFontSize": 28, "titleFontSize": 31, "titleFontWeight": "normal",
             "tickSize": -7, "domainWidth": 1, "tickWidth": 1},
    "legend": {"orient": "none", "legendX": 18, "legendY": 305, "title": null, "symbolType": "M-3,0H3", "symbolSize": 427,
               "symbolOffset": 15, "labelOffset": 22, "labelFontSize": 33, "labelFont": "DejaVu Sans", "labelColor": "black",
               "rowPadding": 7, "padding": 0, "labelLimit": 0, "symbolFillColor": "transparent"}
  }
}
